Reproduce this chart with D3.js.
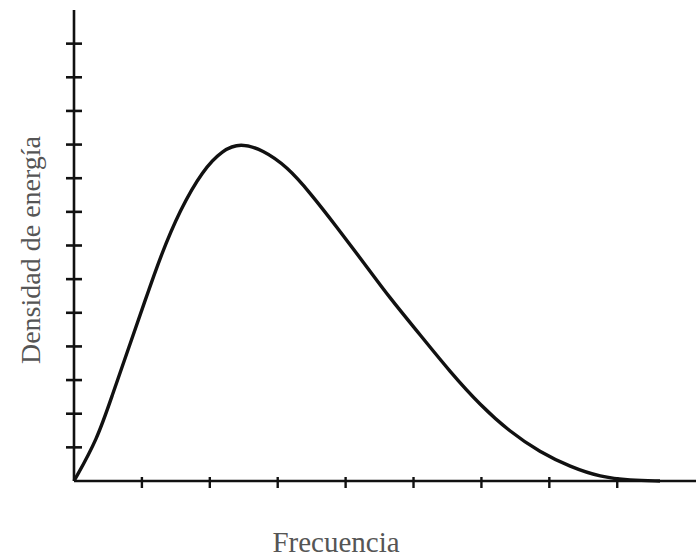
<!DOCTYPE html>
<html>
<head>
<meta charset="utf-8">
<script src="https://cdn.jsdelivr.net/npm/d3@7"></script>
<style>
  body { margin: 0; background: #fff; }
  svg { display: block; }
</style>
</head>
<body>
<svg id="chart" width="696" height="558"></svg>
<script>
"use strict";

// curve (frequency in tick units, energy density in tick units)
const frecuencia = [0, 0.34, 0.57, 0.81, 1.05, 1.27, 1.56, 1.90, 2.19, 2.45, 2.78, 3.14, 3.48, 3.87, 4.26, 4.65, 5.10, 5.54, 5.98, 6.42, 6.86, 7.31, 7.75, 8.19, 8.63];
const densidad   = [0, 1.22, 2.59, 3.98, 5.38, 6.66, 8.06, 9.25, 9.84, 10.05, 9.84, 9.34, 8.56, 7.55, 6.51, 5.44, 4.34, 3.24, 2.26, 1.46, 0.86, 0.42, 0.12, 0.02, 0];
const xTicks = [1, 2, 3, 4, 5, 6, 7, 8];
const yTicks = [1, 2, 3, 4, 5, 6, 7, 8, 9, 10, 11, 12, 13];
const xLabel = "Frecuencia";
const yLabel = "Densidad de energía";

const svg = d3.select("#chart");

const x0 = 74, y0 = 481;
const x = d3.scaleLinear().domain([0, 9.16]).range([x0, 696]);
const y = d3.scaleLinear().domain([0, 14]).range([y0, 10]);

const ink = "#111";

// axes lines
svg.append("line")
   .attr("x1", x(0)).attr("x2", x(9.16))
   .attr("y1", y0).attr("y2", y0)
   .attr("stroke", ink).attr("stroke-width", 2.6);

svg.append("line")
   .attr("x1", x0).attr("x2", x0)
   .attr("y1", y(0)).attr("y2", y(14))
   .attr("stroke", ink).attr("stroke-width", 2.6);

// y ticks cross the axis
svg.selectAll(".ytick")
   .data(yTicks)
   .enter()
   .append("line")
   .attr("class", "ytick")
   .attr("x1", x0 - 8).attr("x2", x0 + 8)
   .attr("y1", d => y(d)).attr("y2", d => y(d))
   .attr("stroke", ink).attr("stroke-width", 2.6);

// x ticks, mostly below the axis
svg.selectAll(".xtick")
   .data(xTicks)
   .enter()
   .append("line")
   .attr("class", "xtick")
   .attr("x1", d => x(d)).attr("x2", d => x(d))
   .attr("y1", y0 - 4).attr("y2", y0 + 7)
   .attr("stroke", ink).attr("stroke-width", 2.4);

// the curve
const pts = frecuencia.map((f, i) => [f, densidad[i]]);
const line = d3.line()
               .x(d => x(d[0]))
               .y(d => y(d[1]))
               .curve(d3.curveBasis);

svg.append("path")
   .datum(pts)
   .attr("d", line)
   .attr("fill", "none")
   .attr("stroke", ink)
   .attr("stroke-width", 3.4)
   .attr("stroke-linejoin", "round");

// labels
svg.append("text")
   .attr("x", 336).attr("y", 552)
   .attr("text-anchor", "middle")
   .attr("font-family", "Liberation Serif, serif")
   .attr("font-size", 29)
   .attr("fill", "#555")
   .text(xLabel);

svg.append("text")
   .attr("transform", "translate(40,250) rotate(-90)")
   .attr("text-anchor", "middle")
   .attr("font-family", "Liberation Serif, serif")
   .attr("font-size", 28)
   .attr("fill", "#555")
   .text(yLabel);
</script>
</body>
</html>
